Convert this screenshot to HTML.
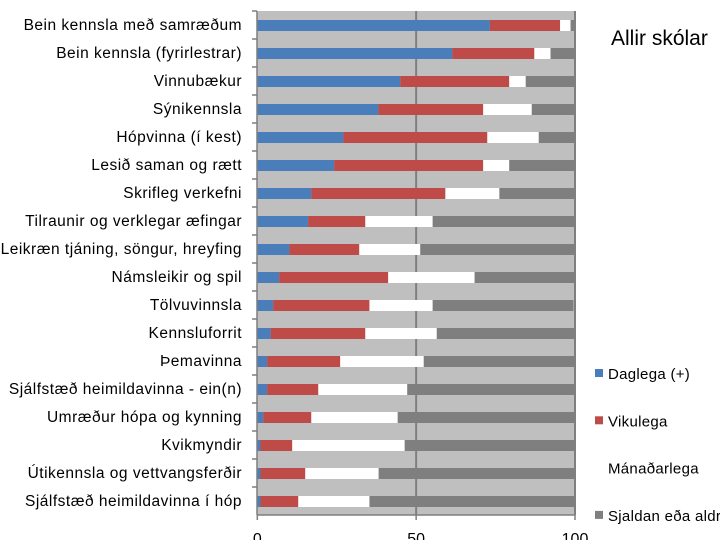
<!DOCTYPE html>
<html><head><meta charset="utf-8"><style>
html,body{margin:0;padding:0;background:#fff;width:720px;height:540px;overflow:hidden}
svg text{font-family:"Liberation Sans",sans-serif}
</style></head><body>
<svg id="chart" width="720" height="540" xmlns="http://www.w3.org/2000/svg"></svg>
<script>
const categories=["Bein kennsla með samræðum","Bein kennsla (fyrirlestrar)","Vinnubækur","Sýnikennsla","Hópvinna (í kest)","Lesið saman og rætt","Skrifleg verkefni","Tilraunir og verklegar æfingar","Leikræn tjáning, söngur, hreyfing","Námsleikir og spil","Tölvuvinnsla","Kennsluforrit","Þemavinna","Sjálfstæð heimildavinna - ein(n)","Umræður hópa og kynning","Kvikmyndir","Útikennsla og vettvangsferðir","Sjálfstæð heimildavinna í hóp"];
const daily=[73.2,61.4,45,38.1,27.1,24.2,17,16,10.1,6.9,5,4.2,3.1,3.1,1.9,1,1,1];
const weekly=[22.1,25.8,34.3,33,45.3,46.9,42.2,18,22,34.3,30.3,29.8,23,16.1,15.1,10,14.1,11.9];
const monthly=[3.3,5.1,5.2,15.3,16.2,8.2,17,21.2,19.2,27.2,19.9,22.5,26.3,28,27.2,35.4,23.1,22.4];
const rarely=[1.4,7.7,15.5,13.6,11.4,20.7,23.8,44.8,48.7,31.6,44.3,43.5,47.6,52.8,55.8,53.6,61.8,64.7];
const seriesNames=["Daglega (+)","Vikulega","Mánaðarlega","Sjaldan eða aldrei"];
const seriesColors=["#4a7ebb","#be4b48","#ffffff","#7f7f7f"];
const ticks=[0,50,100];

const svg=document.getElementById('chart');
const NS='http://www.w3.org/2000/svg';
const X0=257.3,X1=575,Y0=11,ROW=28;
const xs=v=>X0+(X1-X0)*v/100;
function mk(tag,attrs){const e=document.createElementNS(NS,tag);for(const k in attrs)e.setAttribute(k,attrs[k]);svg.appendChild(e);return e;}

const bg=mk('rect',{x:X0,y:Y0,width:X1-X0,height:ROW*categories.length,fill:'#bfbfbf'});


const g50=mk('line',{x1:xs(50),x2:xs(50),y1:Y0,y2:Y0+ROW*categories.length,stroke:'#7f7f7f','stroke-width':2});


const g100=mk('line',{x1:xs(100),x2:xs(100),y1:Y0,y2:Y0+ROW*categories.length,stroke:'#7f7f7f','stroke-width':2});



const series=[daily,weekly,monthly,rarely];
categories.forEach((c,i)=>{
  let acc=0;
  const yb=Y0+i*ROW+9;
  series.forEach((s,j)=>{
    const r=mk('rect',{x:xs(acc),y:yb,width:xs(acc+s[i])-xs(acc),height:11,fill:seriesColors[j]});
    
    
    acc+=s[i];
  });
  const t=mk('text',{x:242,y:Y0+i*ROW+19,'text-anchor':'end','font-size':15.5,'letter-spacing':0.5,fill:'#000'});
  t.textContent=c;
  
  
  const tk=mk('line',{x1:252,x2:257,y1:Y0+i*ROW,y2:Y0+i*ROW,stroke:'#7f7f7f','stroke-width':1.5});
  
  
});
const ya=mk('line',{x1:257,x2:257,y1:Y0,y2:Y0+ROW*categories.length,stroke:'#7f7f7f','stroke-width':1.5});


const xa=mk('line',{x1:X0,x2:X1,y1:Y0+ROW*categories.length,y2:Y0+ROW*categories.length,stroke:'#7f7f7f','stroke-width':1.5});


ticks.forEach(v=>{
  const l=mk('line',{x1:xs(v),x2:xs(v),y1:Y0+ROW*categories.length,y2:Y0+ROW*categories.length+5,stroke:'#7f7f7f','stroke-width':1.5});
  
  
  const t=mk('text',{x:xs(v),y:544,'text-anchor':'middle','font-size':16,fill:'#000'});
  t.textContent=v;
  
  
});
const title=mk('text',{x:611,y:45,'font-size':21,fill:'#000'});
title.textContent='Allir skólar';


seriesNames.forEach((n,j)=>{
  const y=374+j*47.3;
  const sq=mk('rect',{x:595,y:y-5,width:8,height:8,fill:seriesColors[j]});
  
  
  const t=mk('text',{x:608,y:y+5,'font-size':15,'letter-spacing':0.3,fill:'#000'});
  t.textContent=n;
  
  
});
</script>
</body></html>
